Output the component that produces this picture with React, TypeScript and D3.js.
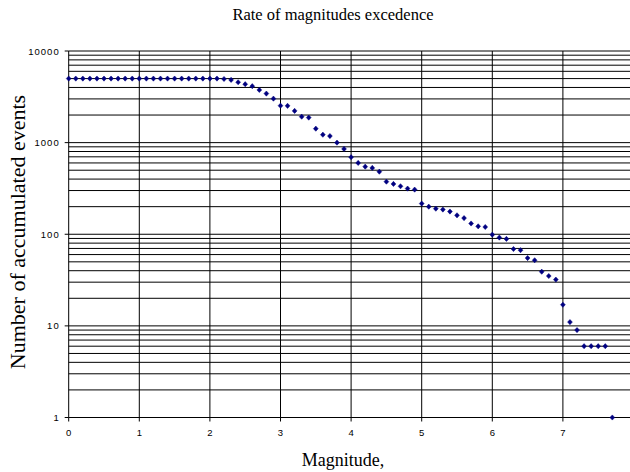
import React from "react";
import * as d3 from "d3";

const magnitudes = [
  0.0, 0.1, 0.2, 0.3, 0.4, 0.5, 0.6, 0.7, 0.8, 0.9,
  1.0, 1.1, 1.2, 1.3, 1.4, 1.5, 1.6, 1.7, 1.8, 1.9,
  2.0, 2.1, 2.2, 2.3, 2.4, 2.5, 2.6, 2.7, 2.8, 2.9,
  3.0, 3.1, 3.2, 3.3, 3.4, 3.5, 3.6, 3.7, 3.8, 3.9,
  4.0, 4.1, 4.2, 4.3, 4.4, 4.5, 4.6, 4.7, 4.8, 4.9,
  5.0, 5.1, 5.2, 5.3, 5.4, 5.5, 5.6, 5.7, 5.8, 5.9,
  6.0, 6.1, 6.2, 6.3, 6.4, 6.5, 6.6, 6.7, 6.8, 6.9,
  7.0, 7.1, 7.2, 7.3, 7.4, 7.5, 7.6, 7.7,
];

const events = [
  5000, 5000, 5000, 5000, 5000, 5000, 5000, 5000, 5000, 5000,
  5000, 5000, 5000, 5000, 5000, 5000, 5000, 5000, 5000, 5000,
  5000, 5000, 4950, 4840, 4560, 4340, 4130, 3760, 3430, 3020,
  2530, 2520, 2220, 1920, 1875, 1420, 1220, 1180, 1000, 853,
  693, 600, 547, 530, 482, 375, 354, 334, 315, 307,
  216, 200, 190, 186, 177, 161, 150, 131, 122, 120,
  99, 92, 89, 69, 67, 55, 52, 39, 35, 32,
  17, 11, 9, 6, 6, 6, 6, 1,
];

const xTicks = [0, 1, 2, 3, 4, 5, 6, 7];
const yMajor = [1, 10, 100, 1000, 10000];
const title = "Rate of magnitudes excedence";
const xTitle = "Magnitude,";
const yTitle = "Number of accumulated events";

const W = 630;
const H = 472;

export default function App() {
  const x = d3.scaleLinear().domain([0, 8]).range([68.7, 68.7 + 8 * 70.6]);
  const y = d3.scaleLog().domain([1, 10000]).range([417.5, 51]);
  const right = W;

  const minor: number[] = [];
  for (let d = 1; d < 10000; d *= 10) {
    for (let k = 1; k <= 10; k++) minor.push(d * k);
  }
  const gridY = Array.from(new Set(minor)).filter((v) => v <= 10000);

  const marker = "M0,-2.6L2.4,0L0,2.6L-2.4,0Z";

  return (
    <svg
      width={W}
      height={H}
      style={{ position: "absolute", left: 0, top: 0, background: "#fff" }}
    >
      <rect x={0} y={0} width={W} height={H} fill="#fff" />
      {gridY.map((v) => (
        <line
          key={"h" + v}
          x1={x(0)}
          x2={right}
          y1={y(v)}
          y2={y(v)}
          stroke="#000"
          strokeWidth={1}
        />
      ))}
      {xTicks.map((t) => (
        <line
          key={"v" + t}
          x1={x(t)}
          x2={x(t)}
          y1={y(10000)}
          y2={y(1)}
          stroke="#000"
          strokeWidth={1}
        />
      ))}
      {yMajor.map((v) => (
        <g key={"yt" + v}>
          <line x1={x(0) - 4} x2={x(0)} y1={y(v)} y2={y(v)} stroke="#000" />
          <text
            x={x(0) - 9}
            y={y(v) + 3.5}
            textAnchor="end"
            fontFamily="Liberation Sans, Arial, sans-serif"
            fontSize={9.5}
            letterSpacing={1}
            fill="#000"
          >
            {v}
          </text>
        </g>
      ))}
      {xTicks.map((t) => (
        <g key={"xt" + t}>
          <line x1={x(t)} x2={x(t)} y1={y(1)} y2={y(1) + 4} stroke="#000" />
          <text
            x={x(t)}
            y={436}
            textAnchor="middle"
            fontFamily="Liberation Sans, Arial, sans-serif"
            fontSize={9.5}
            fill="#000"
          >
            {t}
          </text>
        </g>
      ))}
      {magnitudes.map((m, i) => (
        <path
          key={"p" + i}
          d={marker}
          transform={`translate(${x(m)},${y(events[i])})`}
          fill="#000080"
          stroke="#000080"
          strokeWidth={0.5}
        />
      ))}
      <text
        x={333}
        y={19.5}
        textAnchor="middle"
        fontFamily="Liberation Serif, Times New Roman, serif"
        fontSize={16.5}
        fill="#000"
      >
        {title}
      </text>
      <text
        x={343}
        y={466}
        textAnchor="middle"
        fontFamily="Liberation Serif, Times New Roman, serif"
        fontSize={18}
        fill="#000"
      >
        {xTitle}
      </text>
      <text
        transform={`translate(25,232) rotate(-90)`}
        textAnchor="middle"
        fontFamily="Liberation Serif, Times New Roman, serif"
        fontSize={22}
        fill="#000"
      >
        {yTitle}
      </text>
    </svg>
  );
}
